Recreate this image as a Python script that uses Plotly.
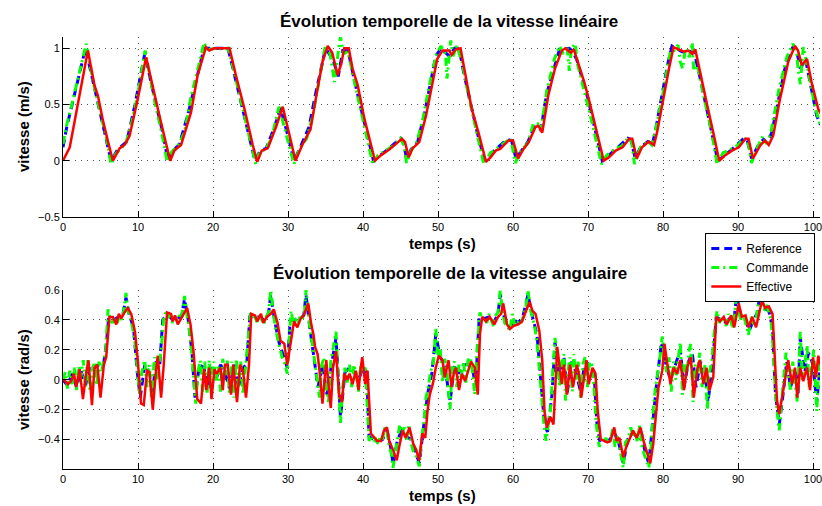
import plotly.graph_objects as go

# ---------------- DATA ----------------
# Linear speed (m/s): (time s, value)
ref_lin = [(0,0.12),(0.5,0.3),(3.0,1.0),(4.0,0.7),(5.2,0.37),(6.4,0.0),(7.3,0.1),(8.5,0.17),(9.6,0.5),
 (10.9,0.95),(12.0,0.62),(13.3,0.25),(14.0,0.0),(14.6,0.09),(15.5,0.14),(16.8,0.45),(18.8,1.0),(20,1.0),
 (22.0,1.0),(22.8,0.78),(25.0,0.15),(25.6,0.0),(26.3,0.09),(27.1,0.11),(28.2,0.3),(29.0,0.47),(30.2,0.17),
 (30.8,0.0),(31.7,0.13),(32.8,0.3),(33.6,0.57),(35.0,1.0),(36.0,0.9),(36.7,0.75),(37.3,0.98),(38.0,0.98),
 (39.0,0.67),(40.5,0.25),(41.4,0.0),(43.3,0.1),(45.0,0.2),(45.4,0.16),(45.8,0.02),(46.4,0.1),(47.3,0.17),
 (48.2,0.42),(49.7,0.93),(50.4,1.0),(51.5,0.93),(52.2,1.0),(52.8,1.0),(53.5,0.76),(55.2,0.26),(56.2,0.0),
 (57.5,0.09),(59.2,0.19),(59.8,0.18),(60.4,0.02),(61.2,0.1),(62.0,0.17),(62.8,0.3),(63.3,0.3),(63.7,0.27),
 (64.5,0.6),(66.2,0.99),(67.5,1.0),(68.0,0.97),(68.6,0.88),(70.0,0.55),(71.3,0.17),(71.9,0.0),(73.5,0.09),
 (75.3,0.2),(75.7,0.19),(76.3,0.02),(77.0,0.12),(78.0,0.17),(78.6,0.15),(79.0,0.27),(80.6,0.85),(81.2,1.02),
 (82.5,0.97),(83.2,0.96),(84.1,0.98),(84.8,0.78),(86.5,0.25),(87.3,0.0),(89.0,0.09),(90.8,0.2),(91.2,0.19),
 (91.8,0.02),(92.8,0.15),(93.4,0.19),(93.9,0.16),(94.5,0.25),(96.5,0.9),(97.4,1.02),(97.9,0.95),(98.3,0.82),
 (99.0,0.9),(99.6,0.7),(100.5,0.4),(101,0.32)]

cmd_lin = [(0,0.15),(0.5,0.32),(1.0,0.45),(2.0,0.72),(3.1,1.04),(3.6,0.85),(4.2,0.65),(5.0,0.42),(5.8,0.2),
 (6.4,-0.03),(7.0,0.06),(7.6,0.1),(8.4,0.16),(9.2,0.35),(10.0,0.6),(10.95,0.98),(11.5,0.78),(12.3,0.5),
 (13.0,0.3),(13.9,-0.01),(14.5,0.08),(15.3,0.13),(16.2,0.25),(17.0,0.55),(18.0,0.82),(18.8,1.05),(19.3,0.99),
 (20.5,1.0),(21.5,0.99),(22.0,1.0),(22.6,0.85),(23.5,0.6),(24.5,0.3),(25.7,-0.03),(26.2,0.08),(27.0,0.1),
 (27.8,0.2),(28.8,0.48),(29.5,0.3),(30.2,0.12),(30.8,-0.03),(31.5,0.1),(32.5,0.2),(33.3,0.4),(34.2,0.75),
 (35.0,1.03),(35.6,0.95),(36.2,0.7),(36.8,1.02),(37.0,1.1),(37.4,0.95),(38.0,0.97),(38.8,0.72),(39.7,0.45),
 (40.5,0.22),(41.3,-0.03),(42.0,0.05),(43.0,0.09),(44.0,0.13),(45.0,0.2),(45.5,0.13),(45.8,-0.02),(46.4,0.09),
 (47.2,0.17),(48.0,0.38),(49.0,0.72),(49.8,0.95),(50.4,1.02),(51.0,0.95),(51.2,0.73),(51.5,0.98),(51.7,1.07),
 (52.0,0.93),(52.5,1.02),(53.2,0.88),(54.0,0.6),(55.0,0.3),(56.1,-0.03),(57.0,0.07),(58.0,0.12),(59.0,0.17),
 (59.7,0.2),(60.3,-0.02),(61.0,0.08),(62.0,0.16),(62.7,0.33),(63.3,0.33),(63.7,0.27),(64.5,0.62),(65.5,0.9),
 (66.2,1.02),(66.7,0.95),(67.2,1.02),(67.5,0.8),(67.8,1.0),(68.3,1.04),(68.6,0.86),(69.5,0.62),(70.5,0.35),
 (71.8,-0.03),(72.5,0.05),(73.5,0.1),(74.5,0.13),(75.3,0.2),(75.8,0.17),(76.2,-0.03),(77.0,0.12),(78.0,0.17),
 (78.5,0.14),(79.0,0.27),(80.0,0.6),(81.0,0.98),(81.5,0.98),(82.0,1.03),(82.3,0.88),(82.6,0.82),(83.0,1.0),
 (83.5,0.92),(83.9,1.05),(84.1,0.8),(84.6,0.85),(85.5,0.55),(86.5,0.25),(87.2,-0.03),(88.0,0.07),(89.0,0.1),
 (90.0,0.14),(90.8,0.2),(91.3,0.18),(91.8,-0.02),(92.6,0.12),(93.3,0.22),(93.8,0.15),(94.4,0.26),(95.5,0.65),
 (96.5,0.92),(97.3,1.04),(97.8,0.98),(98.0,0.82),(98.3,0.68),(98.7,1.01),(99.0,0.92),(99.5,0.75),(100.2,0.5),
 (101,0.3)]

eff_lin = [(0,0),(0.9,0.12),(3.32,0.98),(4.2,0.67),(4.65,0.58),(5.32,0.36),(6.0,0.17),(6.65,0.0),(7.54,0.11),
 (8.2,0.14),(8.87,0.22),(9.97,0.55),(11.08,0.92),(12.2,0.61),(12.86,0.40),(13.5,0.22),(14.3,0.0),(14.85,0.09),
 (15.74,0.14),(17.07,0.43),(17.95,0.76),(19.06,1.01),(19.5,0.98),(20.17,1.0),(22.2,1.0),(23.05,0.76),
 (24.2,0.46),(25.3,0.14),(25.9,-0.01),(26.5,0.09),(27.3,0.11),(28.4,0.30),(29.3,0.48),(30.4,0.17),(31.0,0.0),
 (31.9,0.14),(33.0,0.28),(33.7,0.55),(34.6,0.88),(35.3,1.02),(35.9,0.96),(36.6,0.76),(37.1,0.86),(37.5,1.0),
 (38.1,1.0),(38.6,0.82),(39.3,0.67),(40.2,0.37),(40.8,0.22),(41.6,0.0),(42.4,0.05),(43.5,0.10),(44.4,0.15),
 (45.2,0.195),(45.6,0.165),(46.1,0.03),(46.6,0.11),(47.5,0.165),(48.4,0.40),(49.3,0.70),(49.9,0.905),
 (50.6,0.98),(51.5,0.98),(51.8,0.94),(52.4,0.99),(53.0,1.0),(53.7,0.76),(54.5,0.46),(55.4,0.25),(56.4,-0.01),
 (57.0,0.03),(57.7,0.09),(58.3,0.105),(59.4,0.18),(60.0,0.18),(60.7,0.02),(61.4,0.105),(62.1,0.165),
 (63.0,0.30),(63.4,0.31),(63.9,0.25),(64.7,0.58),(65.6,0.82),(66.5,0.98),(67.0,1.0),(67.7,0.96),(68.1,0.99),
 (68.8,0.85),(69.5,0.70),(70.1,0.55),(70.8,0.37),(71.5,0.165),(72.1,0.0),(72.8,0.03),(73.7,0.09),(74.6,0.12),
 (75.5,0.195),(75.9,0.195),(76.5,0.02),(77.2,0.12),(78.1,0.17),(78.8,0.14),(79.2,0.25),(80.1,0.58),(80.8,0.82),
 (81.4,1.01),(82.1,0.99),(82.8,0.97),(83.4,0.98),(83.9,0.95),(84.3,0.99),(85.0,0.76),(85.9,0.49),(86.7,0.25),
 (87.5,0.0),(88.3,0.05),(89.2,0.09),(90.1,0.12),(91.0,0.195),(91.4,0.195),(92.0,0.02),(93.0,0.14),(93.6,0.18),
 (94.1,0.14),(94.7,0.225),(95.6,0.55),(96.7,0.88),(97.6,1.02),(98.0,0.98),(98.5,0.85),(99.2,0.905),
 (99.8,0.70),(100.7,0.46),(101,0.42)]

# Angular speed (rad/s): (time s, value)
ref_ang = [(0,0.0),(0.6,-0.04),(1.2,0.04),(1.8,-0.05),(2.4,0.06),(3.0,-0.04),(3.6,0.1),(4.2,0.08),(4.8,0.1),
 (5.4,0.1),(5.8,0.25),(6.1,0.42),(6.8,0.4),(7.4,0.42),(8.0,0.44),(8.4,0.55),(8.8,0.44),(9.4,0.35),(9.9,0.05),
 (10.3,-0.12),(10.9,0.1),(11.5,0.05),(11.9,-0.1),(12.4,0.12),(12.9,0.1),(13.3,0.4),(13.9,0.44),(14.6,0.4),
 (15.2,0.41),(15.8,0.42),(16.2,0.54),(16.7,0.4),(17.2,0.18),(17.6,-0.12),(18.2,0.1),(18.8,0.08),(19.3,-0.06),
 (19.8,0.1),(20.4,0.0),(21.0,0.1),(21.6,0.05),(22.2,-0.06),(22.8,0.1),(23.4,-0.05),(24.0,0.08),(24.5,0.1),
 (24.9,0.42),(25.6,0.42),(26.2,0.42),(26.8,0.4),(27.4,0.44),(27.7,0.57),(28.2,0.4),(28.8,0.25),(29.4,0.15),
 (29.9,0.08),(30.3,0.4),(30.9,0.4),(31.5,0.4),(32.1,0.43),(32.4,0.57),(32.9,0.35),(33.5,0.15),(34.0,-0.05),
 (34.6,0.1),(35.2,-0.1),(35.8,0.1),(36.4,0.28),(37.0,-0.25),(37.6,0.05),(38.2,0.08),(38.8,0.05),(39.4,0.0),
 (40.0,0.08),(40.5,0.05),(40.8,-0.38),(41.4,-0.4),(42.0,-0.41),(42.6,-0.4),(43.2,-0.34),(43.8,-0.48),
 (44.0,-0.57),(44.6,-0.4),(45.2,-0.34),(45.8,-0.38),(46.4,-0.4),(47.0,-0.48),(47.5,-0.56),(48.0,-0.35),
 (48.6,-0.1),(49.2,0.05),(49.7,0.3),(50.3,0.15),(50.9,0.1),(51.6,-0.15),(52.2,0.1),(52.8,0.05),(53.4,0.1),
 (54.0,0.1),(54.6,0.08),(55.0,-0.05),(55.5,0.42),(56.2,0.41),(56.8,0.42),(57.4,0.38),(58.0,0.44),(58.3,0.57),
 (58.9,0.4),(59.5,0.34),(60.1,0.4),(60.7,0.38),(61.3,0.42),(62.0,0.57),(62.6,0.42),(63.2,0.3),(63.8,-0.05),
 (64.2,-0.3),(64.6,-0.35),(65.2,-0.1),(65.6,0.25),(66.2,0.0),(66.8,0.15),(67.2,-0.1),(67.8,0.12),(68.4,0.05),
 (69.0,-0.08),(69.6,0.12),(70.2,0.1),(70.8,0.05),(71.2,-0.3),(71.6,-0.42),(72.2,-0.41),(72.8,-0.41),
 (73.4,-0.35),(74.0,-0.4),(74.7,-0.56),(75.3,-0.4),(75.9,-0.36),(76.5,-0.38),(77.1,-0.35),(77.6,-0.48),
 (78.1,-0.56),(78.6,-0.3),(79.2,0.0),(79.8,0.25),(80.4,0.1),(81.0,0.0),(81.6,0.1),(82.3,0.2),(82.8,-0.05),
 (83.4,0.12),(83.9,0.18),(84.4,-0.05),(85.0,0.12),(85.6,0.05),(86.0,-0.15),(86.6,0.1),(87.1,0.42),(87.8,0.4),
 (88.4,0.38),(89.0,0.42),(89.4,0.36),(89.8,0.57),(90.4,0.42),(91.0,0.4),(91.5,0.33),(92.1,0.4),(92.6,0.45),
 (92.9,0.57),(93.5,0.48),(94.1,0.46),(94.6,0.35),(95.0,-0.1),(95.5,-0.3),(96.0,-0.1),(96.5,0.12),(97.0,-0.05),
 (97.6,0.05),(98.0,-0.1),(98.3,0.28),(98.9,0.05),(99.4,0.18),(100.0,0.1),(100.5,-0.15),(101,0.12)]

cmd_ang = [(0.0,0.0),(0.3,0.05),(0.6,-0.06),(0.9,0.06),(1.2,-0.03),(1.5,0.08),(1.8,-0.07),(2.1,0.09),(2.4,0.02),
 (2.7,0.13),(3.0,-0.05),(3.3,0.13),(3.6,-0.08),(3.9,0.06),(4.2,0.12),(4.5,-0.04),(4.8,0.12),(5.1,0.05),
 (5.4,0.12),(5.7,0.2),(6.0,0.47),(6.3,0.4),(6.6,0.38),(6.9,0.42),(7.2,0.37),(7.5,0.43),(7.8,0.4),(8.1,0.46),
 (8.4,0.58),(8.7,0.45),(9.0,0.43),(9.3,0.35),(9.6,0.25),(9.9,0.08),(10.2,-0.1),(10.5,0.05),(10.9,0.13),
 (11.2,-0.05),(11.5,0.1),(11.8,-0.12),(12.2,0.15),(12.5,0.0),(12.8,0.12),(13.1,0.2),(13.4,0.4),(13.7,0.45),
 (14.0,0.42),(14.3,0.44),(14.6,0.38),(14.9,0.42),(15.2,0.39),(15.5,0.43),(15.8,0.41),(16.0,0.48),(16.2,0.56),
 (16.5,0.44),(16.8,0.35),(17.1,0.22),(17.4,0.0),(17.7,-0.16),(18.0,0.05),(18.3,0.13),(18.6,-0.08),(18.9,0.12),
 (19.2,-0.1),(19.5,0.13),(19.8,-0.05),(20.1,0.12),(20.4,-0.02),(20.7,0.1),(21.0,-0.08),(21.3,0.14),(21.6,0.03),
 (21.9,0.13),(22.2,-0.1),(22.5,0.12),(22.8,-0.12),(23.1,0.14),(23.4,-0.06),(23.7,0.12),(24.0,-0.1),(24.3,0.08),
 (24.6,0.2),(25.0,0.45),(25.3,0.4),(25.6,0.42),(25.9,0.38),(26.2,0.44),(26.5,0.4),(26.8,0.37),(27.1,0.42),
 (27.4,0.45),(27.7,0.6),(28.0,0.45),(28.3,0.35),(28.6,0.28),(28.9,0.22),(29.2,0.15),(29.5,0.12),(29.9,0.04),
 (30.2,0.3),(30.4,0.46),(30.7,0.38),(31.0,0.4),(31.3,0.37),(31.6,0.42),(31.9,0.4),(32.2,0.45),(32.4,0.6),
 (32.7,0.42),(33.0,0.3),(33.3,0.22),(33.6,0.1),(33.9,0.0),(34.2,-0.12),(34.5,0.1),(34.8,0.15),(35.1,-0.05),
 (35.4,-0.15),(35.7,0.12),(36.0,0.2),(36.4,0.32),(36.7,0.0),(37.0,-0.29),(37.3,-0.05),(37.6,0.08),(37.9,-0.02),
 (38.2,0.1),(38.5,-0.05),(38.8,0.1),(39.1,0.03),(39.4,-0.08),(39.7,0.1),(40.0,0.05),(40.3,0.08),(40.6,-0.2),
 (40.8,-0.41),(41.1,-0.38),(41.4,-0.42),(41.7,-0.4),(42.0,-0.43),(42.3,-0.38),(42.6,-0.4),(42.9,-0.32),
 (43.2,-0.35),(43.5,-0.45),(43.8,-0.5),(44.0,-0.59),(44.3,-0.5),(44.6,-0.38),(44.9,-0.3),(45.2,-0.36),
 (45.5,-0.32),(45.8,-0.4),(46.1,-0.3),(46.4,-0.42),(46.7,-0.48),(47.0,-0.5),(47.5,-0.58),(47.8,-0.4),
 (48.1,-0.3),(48.4,-0.12),(48.7,-0.05),(49.0,0.05),(49.4,0.12),(49.7,0.34),(50.0,0.15),(50.3,0.2),(50.6,-0.02),
 (50.9,0.14),(51.2,0.05),(51.6,-0.2),(51.9,0.1),(52.2,0.12),(52.5,-0.05),(52.8,0.1),(53.1,0.02),(53.4,0.12),
 (53.7,-0.02),(54.0,0.13),(54.3,0.15),(54.6,0.05),(54.9,-0.1),(55.2,0.2),(55.6,0.45),(55.9,0.4),(56.2,0.42),
 (56.5,0.38),(56.8,0.44),(57.1,0.4),(57.4,0.36),(57.7,0.43),(58.0,0.45),(58.3,0.6),(58.6,0.45),(58.9,0.38),
 (59.2,0.36),(59.6,0.33),(59.9,0.44),(60.2,0.37),(60.5,0.36),(60.8,0.4),(61.1,0.38),(61.4,0.44),(61.7,0.48),
 (62.0,0.6),(62.3,0.47),(62.6,0.42),(62.9,0.35),(63.2,0.25),(63.5,0.1),(63.8,-0.1),(64.2,-0.34),(64.4,-0.41),
 (64.7,-0.3),(65.0,-0.2),(65.3,0.05),(65.6,0.28),(65.9,0.15),(66.2,-0.05),(66.5,0.12),(66.8,0.17),(67.0,-0.14),
 (67.3,0.05),(67.6,0.15),(67.9,-0.08),(68.1,0.17),(68.4,0.0),(68.7,0.12),(69.0,-0.12),(69.3,0.1),(69.6,0.15),
 (69.9,-0.05),(70.2,0.12),(70.5,0.1),(70.8,-0.05),(71.1,-0.3),(71.5,-0.45),(71.8,-0.4),(72.1,-0.42),
 (72.4,-0.39),(72.7,-0.43),(73.0,-0.4),(73.3,-0.33),(73.6,-0.45),(73.9,-0.38),(74.2,-0.45),(74.5,-0.55),
 (74.7,-0.59),(75.0,-0.42),(75.3,-0.4),(75.7,-0.32),(76.0,-0.38),(76.3,-0.35),(76.6,-0.42),(76.9,-0.3),
 (77.2,-0.45),(77.5,-0.5),(77.8,-0.55),(78.1,-0.59),(78.4,-0.45),(78.7,-0.2),(79.0,-0.05),(79.3,0.05),
 (79.6,0.15),(79.9,0.29),(80.2,0.12),(80.5,0.05),(80.8,0.15),(81.1,-0.08),(81.4,0.12),(81.7,0.0),(82.0,0.15),
 (82.3,0.25),(82.6,-0.1),(82.9,0.1),(83.2,0.05),(83.5,0.2),(83.7,0.24),(84.0,-0.15),(84.3,0.1),(84.6,0.05),
 (84.9,0.18),(85.2,-0.05),(85.6,0.1),(85.9,-0.2),(86.2,0.05),(86.5,0.12),(86.8,0.3),(87.2,0.46),(87.5,0.38),
 (87.8,0.42),(88.1,0.4),(88.4,0.36),(88.7,0.44),(89.0,0.4),(89.3,0.34),(89.6,0.45),(89.8,0.6),(90.1,0.45),
 (90.4,0.4),(90.7,0.44),(91.0,0.38),(91.4,0.3),(91.7,0.42),(92.0,0.38),(92.3,0.36),(92.6,0.48),(92.9,0.6),
 (93.2,0.48),(93.5,0.47),(93.8,0.5),(94.1,0.45),(94.4,0.4),(94.7,0.2),(95.0,-0.1),(95.3,-0.25),(95.5,-0.34),
 (95.8,-0.15),(96.1,0.0),(96.4,0.18),(96.7,0.05),(97.0,-0.08),(97.3,0.12),(97.6,0.0),(97.9,-0.15),(98.3,0.32),
 (98.6,0.0),(98.9,0.1),(99.2,0.23),(99.5,-0.05),(99.8,0.1),(100.1,0.2),(100.5,-0.21),(100.8,0.15),(101,0.1)]

eff_ang = [(0.1,0.0),(0.67,-0.03),(1.1,-0.01),(1.46,0.04),(1.77,-0.05),(2.22,0.07),(2.66,-0.13),(3.1,0.05),
 (3.4,0.13),(3.86,-0.17),(4.2,0.08),(4.57,0.10),(5.0,-0.12),(5.45,0.10),(5.76,0.15),(6.2,0.42),(6.65,0.42),
 (7.1,0.37),(7.45,0.44),(7.76,0.41),(8.2,0.45),(8.64,0.48),(9.1,0.44),(9.6,0.32),(9.97,0.13),(10.4,-0.16),
 (10.77,-0.17),(11.2,0.06),(11.53,0.05),(11.97,-0.20),(12.4,0.06),(12.63,0.16),(13.08,-0.12),(13.43,0.10),
 (13.88,0.45),(14.4,0.44),(14.63,0.39),(14.94,0.43),(15.3,0.37),(15.74,0.41),(16.2,0.45),(16.55,0.48),
 (17.0,0.37),(17.4,0.19),(17.9,-0.13),(18.4,-0.16),(18.8,0.07),(19.1,-0.07),(19.5,0.08),(19.8,-0.13),
 (20.2,0.07),(20.5,0.04),(21.0,0.08),(21.3,-0.07),(21.6,0.10),(21.95,0.10),(22.4,-0.10),(22.7,0.10),
 (23.2,-0.15),(23.6,0.10),(24.0,0.06),(24.4,-0.12),(24.8,0.10),(25.1,0.44),(25.6,0.43),(25.9,0.39),
 (26.4,0.44),(26.7,0.38),(27.2,0.42),(27.7,0.44),(28.1,0.47),(28.6,0.38),(29.0,0.26),(29.5,0.24),(29.9,0.10),
 (30.4,0.26),(30.8,0.39),(31.25,0.35),(31.7,0.41),(32.1,0.43),(32.7,0.51),(33.1,0.37),(33.4,0.30),
 (33.6,0.22),(33.95,0.17),(34.2,0.06),(34.6,-0.16),(35.1,0.13),(35.4,-0.01),(35.7,-0.19),(36.0,0.08),
 (36.4,0.19),(36.8,-0.10),(37.2,-0.15),(37.5,0.04),(37.9,0.0),(38.2,0.04),(38.6,-0.03),(39.05,0.06),
 (39.4,-0.07),(39.7,0.08),(39.9,0.15),(40.3,-0.03),(40.6,0.06),(41.05,-0.36),(41.5,-0.39),(41.9,-0.41),
 (42.4,-0.41),(42.8,-0.34),(43.2,-0.32),(43.5,-0.41),(44.0,-0.47),(44.5,-0.54),(44.9,-0.43),(45.3,-0.34),
 (45.7,-0.39),(46.2,-0.32),(46.7,-0.43),(47.1,-0.47),(47.5,-0.54),(47.9,-0.36),(48.3,-0.39),(48.6,-0.21),
 (48.9,-0.10),(49.3,-0.03),(49.7,0.08),(50.1,0.16),(50.6,0.13),(50.9,0.015),(51.4,0.13),(51.8,-0.05),
 (52.1,0.04),(52.4,0.08),(52.8,-0.07),(53.2,0.04),(53.6,-0.01),(54.1,0.08),(54.4,0.12),(54.9,0.08),
 (55.3,-0.10),(55.6,0.31),(55.9,0.42),(56.4,0.39),(56.9,0.42),(57.5,0.37),(58.0,0.42),(58.4,0.44),
 (58.7,0.51),(59.2,0.37),(59.6,0.34),(60.1,0.36),(60.7,0.37),(61.2,0.39),(61.6,0.44),(62.2,0.52),(62.6,0.46),
 (63.0,0.44),(63.5,0.33),(63.9,0.13),(64.2,-0.21),(64.5,-0.32),(65.0,-0.25),(65.4,-0.30),(65.9,0.22),
 (66.2,0.08),(66.5,-0.03),(66.8,0.10),(67.2,-0.10),(67.6,0.10),(68.0,-0.05),(68.5,0.10),(68.8,0.04),
 (69.1,-0.12),(69.6,0.08),(69.8,0.13),(70.1,-0.03),(70.6,0.08),(71.0,0.04),(71.3,-0.21),(71.7,-0.40),
 (72.1,-0.41),(72.6,-0.42),(73.0,-0.41),(73.5,-0.32),(73.8,-0.41),(74.2,-0.39),(74.7,-0.52),(75.1,-0.45),
 (75.6,-0.39),(76.0,-0.34),(76.5,-0.39),(77.0,-0.32),(77.4,-0.41),(77.8,-0.47),(78.3,-0.56),(78.7,-0.43),
 (79.1,-0.19),(79.4,-0.05),(79.9,0.06),(80.2,0.24),(80.5,0.13),(81.0,-0.03),(81.4,0.08),(81.9,0.04),
 (82.3,0.13),(82.8,-0.07),(83.2,0.08),(83.7,0.15),(84.1,-0.12),(84.6,0.08),(84.9,0.13),(85.4,-0.03),
 (85.8,0.08),(86.2,-0.07),(86.7,0.015),(87.1,0.42),(87.6,0.39),(88.1,0.42),(88.5,0.37),(89.1,0.43),
 (89.5,0.35),(90.1,0.51),(90.5,0.42),(91.0,0.43),(91.4,0.35),(91.9,0.42),(92.4,0.35),(92.9,0.46),(93.2,0.53),
 (93.6,0.48),(94.1,0.49),(94.6,0.44),(94.95,0.08),(95.2,-0.14),(95.5,-0.23),(95.8,-0.14),(96.3,0.015),
 (96.7,0.13),(97.2,-0.03),(97.6,0.08),(97.9,-0.12),(98.3,0.08),(98.7,-0.01),(99.2,0.08),(99.6,-0.07),
 (100.0,0.15),(100.4,0.015),(100.7,0.16),(101,0.10)]

x_ticks = [0, 10, 20, 30, 40, 50, 60, 70, 80, 90, 100]
y1_ticks = [-0.5, 0, 0.5, 1]
y1_labels = ["\u22120.5", "0", "0.5", "1"]
y2_ticks = [-0.4, -0.2, 0, 0.2, 0.4, 0.6]
y2_labels = ["\u22120.4", "\u22120.2", "0", "0.2", "0.4", "0.6"]

title_lin = "Évolution temporelle de la vitesse linéaire"
title_ang = "Évolution temporelle de la vitesse angulaire"
xlabel = "temps (s)"
ylabel_lin = "vitesse (m/s)"
ylabel_ang = "vitesse (rad/s)"
names = ["Reference", "Commande", "Effective"]

# ---------------- FIGURE ----------------
FONT = "Liberation Sans, Arial, Helvetica, sans-serif"
W, H = 822, 506
ML, MR, MT, MB = 63, 0, 37, 37
PW, PH = W - ML - MR, H - MT - MB
PX_PER_SEC = 7.52  # 10 s = 75.2 px in the reference

def px2x(px):
    return (px - ML) / PW

def py2y(py):
    return (H - MB - py) / PH

styles = [
    dict(color="#0000FF", width=3, dash="8px,5px"),
    dict(color="#00FF00", width=3, dash="8px,4px,2px,4px"),
    dict(color="#FF0000", width=2.5),
]

fig = go.Figure()
for i, series in enumerate([ref_lin, cmd_lin, eff_lin]):
    t, v = zip(*series)
    fig.add_trace(go.Scatter(x=t, y=v, mode="lines", name=names[i], line=styles[i],
                             xaxis="x", yaxis="y", showlegend=True))
for i, series in enumerate([ref_ang, cmd_ang, eff_ang]):
    t, v = zip(*series)
    fig.add_trace(go.Scatter(x=t, y=v, mode="lines", name=names[i], line=styles[i],
                             xaxis="x2", yaxis="y2", showlegend=False))

axis_common = dict(
    showline=True, linecolor="black", linewidth=1, mirror=False,
    ticks="inside", ticklen=6, tickcolor="black", tickwidth=1,
    showgrid=True, gridcolor="#555555", griddash="1px,5px", gridwidth=1,
    zeroline=False, tickfont=dict(family=FONT, size=11, color="black"),
    ticklabeloverflow="allow",
)
x_range = [0, PW / PX_PER_SEC]

fig.update_layout(
    width=W, height=H,
    margin=dict(l=ML, r=MR, t=MT, b=MB),
    paper_bgcolor="white", plot_bgcolor="white",
    font=dict(family=FONT, color="black"),
    xaxis=dict(domain=[0, 1], range=x_range, anchor="y", tickvals=x_ticks, **axis_common),
    yaxis=dict(domain=[py2y(217), 1], range=[-0.5, 1.1], anchor="x",
               tickvals=y1_ticks, ticktext=y1_labels, **axis_common),
    xaxis2=dict(domain=[0, 1], range=x_range, anchor="y2", tickvals=x_ticks, **axis_common),
    yaxis2=dict(domain=[0, py2y(290)], range=[-0.598, 0.6], anchor="x2",
                tickvals=y2_ticks, ticktext=y2_labels, **axis_common),
    legend=dict(x=px2x(707), y=py2y(233), xanchor="left", yanchor="top",
                bgcolor="white", bordercolor="black", borderwidth=1,
                font=dict(family=FONT, size=12, color="black"),
                tracegroupgap=0, itemwidth=30),
    showlegend=True,
)

annots = [
    dict(text="<b>%s</b>" % title_lin, x=px2x(450), y=py2y(21), size=17, angle=0),
    dict(text="<b>%s</b>" % title_ang, x=px2x(451), y=py2y(273), size=17, angle=0),
    dict(text="<b>%s</b>" % xlabel, x=px2x(444), y=py2y(243), size=15, angle=0),
    dict(text="<b>%s</b>" % xlabel, x=px2x(444), y=py2y(495), size=15, angle=0),
    dict(text="<b>%s</b>" % ylabel_lin, x=px2x(23), y=py2y(127), size=15, angle=-90),
    dict(text="<b>%s</b>" % ylabel_ang, x=px2x(23), y=py2y(380), size=15, angle=-90),
]
for a in annots:
    fig.add_annotation(text=a["text"], x=a["x"], y=a["y"], xref="paper", yref="paper",
                       xanchor="center", yanchor="middle", showarrow=False, textangle=a["angle"],
                       font=dict(family=FONT, size=a["size"], color="black"))

fig.write_html("out.html")
